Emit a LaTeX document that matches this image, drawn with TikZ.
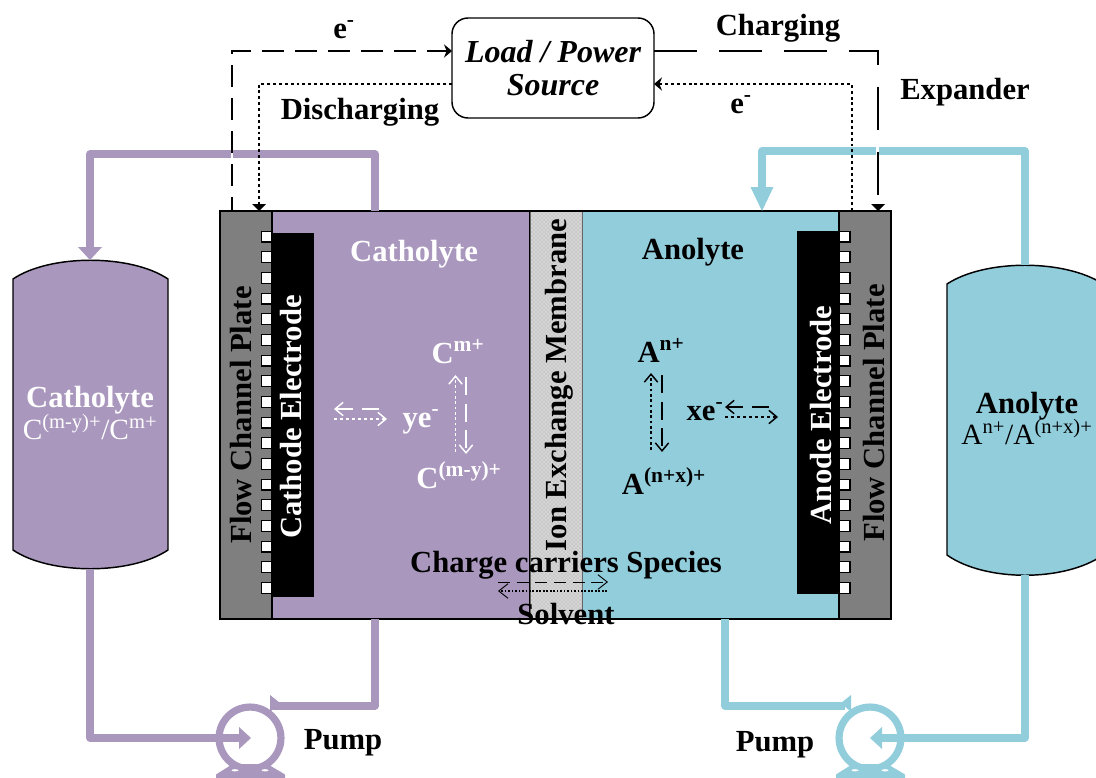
\documentclass[tikz,border=0pt]{standalone}
\usepackage{fontspec}
\setmainfont{Liberation Serif}
\usetikzlibrary{arrows.meta,patterns}
\definecolor{purp}{RGB}{169,151,190}
\definecolor{blu}{RGB}{146,205,220}
\definecolor{plate}{RGB}{127,127,127}
\newcommand{\lab}{\fontsize{23}{25}\selectfont\bfseries}
\tikzset{
  txt/.style={font=\lab,inner sep=0pt,text=black},
  wtxt/.style={txt,text=white},
  thin txt/.style={inner sep=0pt,font=\fontsize{22}{24}\selectfont},
  part/.style={draw=black,line width=.8pt,inner sep=0pt,outer sep=0pt,anchor=north west},
  pipeP/.style={draw=purp,line width=5.4pt,line join=round,line cap=round},
  pipeB/.style={draw=blu,line width=5.4pt,line join=round,line cap=round},
  elecdash/.style={line width=1.8pt,dash pattern=on 16.5pt off 8.25pt,dash phase=6pt},
  elecdot/.style={line width=2pt,dash pattern=on 2.2pt off 2.2pt},
  elecchg/.style={line width=1.8pt,dash pattern=on 32.2pt off 16.5pt},
  tipS/.style={-{Stealth[length=6pt,width=10pt]}},
  smallT/.style={-{Straight Barb[length=6pt,width=10pt,line width=1.1pt]}},
  sqr/.style={draw=black,fill=white,line width=.8pt,minimum size=8.2pt,inner sep=0pt,outer sep=0pt},
}
\begin{document}
\begin{tikzpicture}[x=0.75pt,y=-0.75pt]
\clip (0,0) rectangle (1096,778);
\fill[white] (0,0) rectangle (1096,778);

% tanks
\coordinate (tankLtop) at (90,260);
\coordinate (tankLbot) at (90,569);
\coordinate (tankRtop) at (1025,265);
\coordinate (tankRbot) at (1025,575);
\filldraw[fill=purp,draw=black,line width=1.1pt] (13,279) .. controls (50,254) and (131,254) .. (168,279) -- (168,550) .. controls (131,575) and (50,575) .. (13,550) -- cycle;
\filldraw[fill=blu,draw=black,line width=1.1pt] (947,284) .. controls (985,259) and (1065,259) .. (1103,284) -- (1103,555) .. controls (1065,582) and (985,582) .. (947,555) -- cycle;

% cell
\node[part,fill=plate,minimum width=52*0.75pt,minimum height=408*0.75pt] (plateL) at (220,211) {};
\node[part,fill=purp,minimum width=258*0.75pt,minimum height=408*0.75pt] (cath) at (272,211) {};
\node[part,fill=blu,minimum width=257*0.75pt,minimum height=408*0.75pt] (anod) at (582,211) {};
\node[part,fill=plate,minimum width=52*0.75pt,minimum height=408*0.75pt] (plateR) at (839,211) {};
\node[part,fill=gray!42,draw=gray!80!black,line width=.6pt,minimum width=52*0.75pt,minimum height=408*0.75pt] (memb) at (530,211) {};
\fill[pattern=crosshatch dots,pattern color=white] (530.5,212) rectangle (581.5,618);
\draw[black,line width=1pt] (220,211) rectangle (891,619);

\node[part,fill=black,draw=none,minimum width=42*0.75pt,minimum height=364*0.75pt] (elecL) at (272,233) {};
\node[part,fill=black,draw=none,minimum width=42*0.75pt,minimum height=363*0.75pt] (elecR) at (797,231) {};
\foreach \i in {0,...,17}{
  \node[sqr] (sL\i) at (266.5,{236.5+\i*20.67}) {};
  \node[sqr] (sR\i) at (844.5,{236.5+\i*20.67}) {};
}

% load box
\node[draw=black,fill=white,line width=1.1pt,rounded corners=12pt,inner sep=0pt,outer sep=0pt,minimum width=202*0.75pt,minimum height=100*0.75pt] (load) at (553,68) {};
\node[inner sep=0pt,font=\fontsize{24}{26}\selectfont\bfseries\itshape] (loadA) at (553,52) {Load / Power};
\node[inner sep=0pt,font=\fontsize{24}{26}\selectfont\bfseries\itshape] (loadB) at (553,85) {Source};

% purple pipes
\coordinate (pA) at (375,211);
\coordinate (pB) at (375,154);
\coordinate (pC) at (90,154);
\coordinate (pD) at (90,250);
\coordinate (pE) at (90,738);
\coordinate (pumpL) at (250,738);
\coordinate (pF) at (375,619);
\coordinate (pG) at (375,706);
\coordinate (pH) at (272,706);
\draw[pipeP,line cap=butt] (pA) -- (pB) -- (pC) -- (pD);
\fill[purp] (78,247) -- (102,247) -- (tankLtop) -- cycle;
\draw[pipeP,line cap=butt] (tankLbot) -- (pE) -- (241,738);
\fill[purp] (239,727) -- (251,738) -- (239,749) -- cycle;
\draw[pipeP,line cap=butt] (pF) -- (pG) -- (pH);
\fill[purp] (270,695) -- (280,703) -- (270,712) -- cycle;
\fill[purp,draw=purp,line width=1.5pt,line join=round] (217,775) -- (233,765) -- (267,765) -- (284,775) -- (284,782) -- (217,782) -- cycle;
\draw[purp,line width=5.4pt] (pumpL) circle[radius=23.2pt];
\fill[white] (235,770.3) ellipse[x radius=3.5,y radius=1.1];
\fill[white] (265,770.3) ellipse[x radius=3.5,y radius=1.1];

% blue pipes
\coordinate (bA) at (tankRtop);
\coordinate (bB) at (1025,151);
\coordinate (bC) at (762,151);
\coordinate (bD) at (762,190);
\coordinate (bE) at (762,211);
\coordinate (bF) at (1025,738);
\coordinate (pumpR) at (870,738);
\coordinate (bG) at (725,619);
\coordinate (bH) at (725,706);
\coordinate (bI) at (845,706);
\draw[pipeB,line cap=butt] (bA) -- (bB) -- (bC) -- (bD);
\fill[blu] (750.5,187) -- (773.5,187) -- (bE) -- cycle;
\draw[pipeB,line cap=butt] (tankRbot) -- (bF) -- (880,738);
\fill[blu] (882,727) -- (870,738) -- (882,749) -- cycle;
\draw[pipeB,line cap=butt] (bG) -- (bH) -- (bI);
\fill[blu] (851,695) -- (841,703) -- (851,712) -- cycle;
\fill[blu,draw=blu,line width=1.5pt,line join=round] (837,775) -- (853,765) -- (887,765) -- (904,775) -- (904,782) -- (837,782) -- cycle;
\draw[blu,line width=5.4pt] (pumpR) circle[radius=23.2pt];
\fill[white] (855,770.3) ellipse[x radius=3.5,y radius=1.1];
\fill[white] (885,770.3) ellipse[x radius=3.5,y radius=1.1];

% white cuts in the pipes
\draw[white,line width=2pt] (232,149) -- (232,159);
\draw[white,line width=2pt] (877.5,146) -- (877.5,156);

% external circuit
\coordinate (eLa) at (232,211);
\coordinate (eLb) at (232,51);
\coordinate (eLc) at (259,211);
\coordinate (eLd) at (259,84);
\coordinate (eRa) at (878,211);
\coordinate (eRb) at (878,51);
\coordinate (eRc) at (852,211);
\coordinate (eRd) at (852,84);
\draw[elecdash,tipS] (eLa) -- (eLb) -- (load.west |- eLb);
\draw[elecdot] (load.west |- eLd) -- (eLd) -- (eLc|-0,204);
\draw[elecchg] (load.east |- eRb) -- (eRb) -- (878,204);
\draw[elecdot,tipS] (eRc) -- (eRd) -- (load.east |- eRd);
\fill (252,204) -- (266,204) -- (eLc) -- cycle;
\fill (871,204) -- (885,204) -- (eRa) -- cycle;

% small arrows, catholyte
\coordinate (c1) at (455.5,452);\coordinate (c2) at (455.5,375);
\coordinate (c3) at (466,377);\coordinate (c4) at (466,454);
\coordinate (c5) at (379,409);\coordinate (c6) at (334,409);
\coordinate (c7) at (334,419);\coordinate (c8) at (387,419);
\draw[white,smallT,line width=1.3pt,dash pattern=on 2pt off 2pt] (c1) -- (c2);
\draw[white,smallT,line width=1.3pt,dash pattern=on 13.5pt off 6.5pt] (c3) -- (c4);
\draw[white,smallT,line width=1.3pt,dash pattern=on 12.5pt off 7pt] (c5) -- (c6);
\draw[white,smallT,line width=1.3pt,dash pattern=on 2.5pt off 2pt] (c7) -- (c8);
% small arrows, anolyte
\coordinate (a1) at (651,450);\coordinate (a2) at (651,373);
\coordinate (a3) at (662,375);\coordinate (a4) at (662,452);
\coordinate (a5) at (769,407);\coordinate (a6) at (725,407);
\coordinate (a7) at (725,417);\coordinate (a8) at (778,417);
\draw[smallT,line width=1.3pt,dash pattern=on 2pt off 2pt] (a1) -- (a2);
\draw[smallT,line width=1.3pt,dash pattern=on 13.5pt off 6.5pt] (a3) -- (a4);
\draw[smallT,line width=1.3pt,dash pattern=on 12.5pt off 7pt] (a5) -- (a6);
\draw[smallT,line width=1.3pt,dash pattern=on 2.5pt off 2pt] (a7) -- (a8);
% membrane arrows
\coordinate (m1) at (498,582);\coordinate (m2) at (608,582);
\coordinate (m3) at (607,591);\coordinate (m4) at (498,591);
\draw[-{Straight Barb[length=7pt,width=11pt,line width=.7pt]},line width=.7pt,dash pattern=on 9pt off 5pt] (m1) -- (m2);
\draw[-{Straight Barb[length=7pt,width=11pt,line width=.7pt]},line width=.8pt,dash pattern=on 1.3pt off 1.3pt] (m3) -- (m4);

% labels
\node[txt] (t1) at (344,30) {e\textsuperscript{-}};
\node[txt] (t2) at (778,28) {Charging};
\node[txt] (t3) at (965,92) {Expander};
\node[txt] (t4) at (360,112) {Discharging};
\node[txt] (t5) at (741,105) {e\textsuperscript{-}};
\node[wtxt] (t6) at (414,254) {Catholyte};
\node[txt] (t7) at (693,252) {Anolyte};
\node[txt,rotate=90] (t8) at (241,415) {Flow Channel Plate};
\node[wtxt,rotate=90] (t9) at (291.5,417) {Cathode Electrode};
\node[txt,rotate=90] (t10) at (559,385) {Ion Exchange Membrane};
\node[wtxt,rotate=90] (t11) at (821,415) {Anode Electrode};
\node[txt,rotate=90] (t12) at (874.5,413) {Flow Channel Plate};
\node[wtxt] (t13) at (458,352) {C\textsuperscript{m+}};
\node[wtxt] (t14) at (421,422) {ye\textsuperscript{-}};
\node[wtxt] (t15) at (459,475) {C\textsuperscript{(m-y)+}};
\node[txt] (t16) at (661,350) {A\textsuperscript{n+}};
\node[txt] (t17) at (705,412) {xe\textsuperscript{-}};
\node[txt] (t18) at (664,481) {A\textsuperscript{(n+x)+}};
\node[wtxt] (t19) at (90,400) {Catholyte};
\node[thin txt,text=white] (t20) at (90,427) {C\textsuperscript{(m-y)+}/C\textsuperscript{m+}};
\node[txt] (t21) at (1027,406) {Anolyte};
\node[thin txt] (t22) at (1027,432) {A\textsuperscript{n+}/A\textsuperscript{(n+x)+}};
\node[txt] (t23) at (566,565) {Charge carriers Species};
\node[txt] (t24) at (566,614) {Solvent};
\node[txt] (t25) at (343,743) {Pump};
\node[txt] (t26) at (775,745) {Pump};
\end{tikzpicture}
\end{document}
